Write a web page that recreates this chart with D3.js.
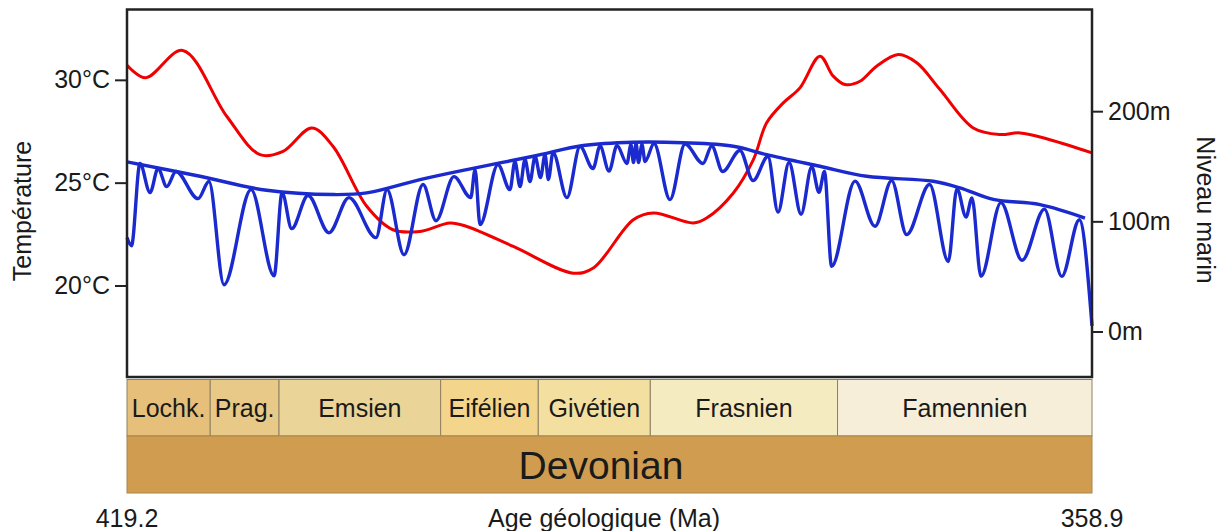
<!DOCTYPE html>
<html>
<head>
<meta charset="utf-8">
<title>Dévonien</title>
<script src="https://cdn.jsdelivr.net/npm/d3@7"></script>
<style>
  body { margin: 0; background: #fff; }
  svg text { font-family: "Liberation Sans", Arial, sans-serif; fill: #1a1a1a; }
</style>
</head>
<body>
<div id="chart"></div>

<script>
// ages in Ma
var tempAge  = [419.2, 418.03, 415.72, 412.97, 410.89, 409.45, 407.66, 406.33, 404.22, 402.58, 400.89, 399.02, 397.97, 395.06, 391.31, 390.06, 387.56, 386.31, 383.81, 382.98, 381.31, 380.06, 379.23, 378.19, 377.15, 375.90, 375.07, 374.33, 373.40, 372.36, 371.00, 369.85, 368.40, 366.32, 364.65, 363.40, 361.53, 358.9];
var tempVal  = [30.71, 30.10, 31.43, 28.23, 26.36, 26.52, 27.66, 26.77, 23.85, 22.71, 22.63, 23.04, 22.87, 21.90, 20.60, 20.85, 23.20, 23.53, 23.04, 23.28, 24.50, 26.12, 27.91, 28.88, 29.61, 31.15, 30.18, 29.77, 29.93, 30.66, 31.23, 30.83, 29.53, 27.66, 27.34, 27.42, 27.09, 26.45];

// sea level: upper envelope
var envAge = [419.2, 414.64, 410.47, 406.31, 404.22, 400.89, 397.97, 393.81, 390.69, 387.56, 384.44, 381.31, 379.23, 375.90, 372.98, 368.82, 367.15, 365.07, 362.15, 359.34];
var envVal = [154.0, 140.9, 128.2, 124.3, 125.8, 137.9, 147.0, 159.1, 168.8, 171.8, 171.3, 168.2, 160.6, 150.0, 140.9, 136.4, 130.4, 119.9, 115.2, 103.0];

// sea level: oscillations (peaks and troughs)
var seaAge = [419.2, 418.92, 418.39, 417.76, 417.26, 416.72, 416.14, 414.76, 414.08, 413.14, 411.45, 410.01, 409.51, 408.91, 407.89, 406.58, 405.33, 403.64, 402.95, 401.89, 400.70, 399.89, 398.77, 397.72, 397.45, 397.14, 396.02, 395.27, 394.96, 394.64, 394.33, 394.02, 393.70, 393.36, 393.08, 392.87, 392.58, 391.71, 390.89, 390.08, 389.64, 389.08, 388.58, 387.96, 387.71, 387.55, 387.39, 387.24, 387.02, 386.83, 386.27, 385.27, 384.33, 383.21, 382.66, 381.98, 380.90, 380.08, 379.15, 378.52, 377.83, 377.08, 376.41, 375.96, 375.62, 375.17, 373.71, 372.46, 371.42, 370.48, 369.05, 367.88, 367.34, 366.77, 366.40, 365.84, 364.59, 363.27, 361.87, 360.79, 359.69, 358.9];
var seaVal = [85.2, 77.9, 152.5, 126.1, 147.9, 131.5, 145.2, 120.6, 136.1, 42.5, 128.8, 50.6, 126.1, 93.4, 123.4, 89.7, 121.5, 85.2, 128.8, 69.7, 133.4, 100.6, 140.6, 121.5, 146.9, 97.0, 151.5, 128.8, 154.3, 131.5, 156.1, 136.1, 158.8, 139.7, 160.6, 137.9, 162.5, 121.5, 167.9, 147.9, 168.4, 145.6, 168.8, 152.5, 169.7, 153.4, 170.6, 153.4, 169.7, 154.3, 170.6, 119.7, 170.2, 152.5, 168.4, 145.2, 164.3, 137.0, 158.8, 108.4, 153.4, 106.5, 149.7, 126.4, 145.2, 59.1, 136.5, 95.5, 137.0, 87.9, 133.4, 63.6, 129.7, 104.0, 121.3, 50.0, 117.0, 64.7, 111.1, 50.0, 101.5, 5.2];

// stages (start / end in Ma on the drawn scale)
var stageNames = ["Lochk.", "Prag.", "Emsien", "Eifélien", "Givétien", "Frasnien", "Famennien"];
var stageStart = [419.2, 414.0, 409.7, 399.6, 393.5, 386.5, 374.8];
var stageEnd   = [414.0, 409.7, 399.6, 393.5, 386.5, 374.8, 358.9];
var stageColor = ["#e6c07b", "#e8c987", "#ebd497", "#f3d68b", "#f3e0a1", "#f5ebc1", "#f6eed8"];

var tempTicks = [20, 25, 30];
var seaTicks = [0, 100, 200];
var ageTicks = [419.2, 358.9];


drawChart();

function drawChart(){

	var width = 1222, height = 531;
	// plot box (note: "top" is reserved on window, so use prefixed names)
	var pLeft = 127, pRight = 1092, pTop = 9.5, pBottom = 377;

	var svg = d3.select("#chart").append("svg")
		.attr("width", width)
		.attr("height", height);

	var x = d3.scaleLinear().domain([419.2, 358.9]).range([pLeft, pRight]);
	var yT = d3.scaleLinear().domain([15.55, 33.42]).range([pBottom, pTop]);
	var yS = d3.scaleLinear().domain([-41.3, 292.3]).range([pBottom, pTop]);

	// Curves: smooth ones through catmull-rom, the sea level wiggles monotone
	var tempLine = d3.line()
		.x(d => x(d[0]))
		.y(d => yT(d[1]))
		.curve(d3.curveCatmullRom.alpha(0.5));
	var envLine = d3.line()
		.x(d => x(d[0]))
		.y(d => yS(d[1]))
		.curve(d3.curveCatmullRom.alpha(0.5));
	var seaLine = d3.line()
		.x(d => x(d[0]))
		.y(d => yS(d[1]))
		.curve(d3.curveMonotoneX);

	svg.append("path")
		.datum(d3.zip(tempAge, tempVal))
		.attr("d", tempLine)
		.attr("fill", "none")
		.attr("stroke", "#f00000")
		.attr("stroke-width", 3);

	svg.append("path")
		.datum(d3.zip(envAge, envVal))
		.attr("d", envLine)
		.attr("fill", "none")
		.attr("stroke", "#1a2ace")
		.attr("stroke-width", 3.4);

	svg.append("path")
		.datum(d3.zip(seaAge, seaVal))
		.attr("d", seaLine)
		.attr("fill", "none")
		.attr("stroke", "#1a2ace")
		.attr("stroke-width", 3.4)
		.attr("stroke-linejoin", "round");

	// Frame
	svg.append("rect")
		.attr("x", pLeft).attr("y", pTop)
		.attr("width", pRight - pLeft).attr("height", pBottom - pTop)
		.attr("fill", "none")
		.attr("stroke", "#222")
		.attr("stroke-width", 2.5);

	// Axes
	var axisL = svg.append("g")
		.attr("transform", "translate(" + pLeft + ",0)")
		.call(d3.axisLeft(yT).tickValues(tempTicks).tickSize(12).tickPadding(5).tickFormat(d => d + "°C"));
	var axisR = svg.append("g")
		.attr("transform", "translate(" + pRight + ",0)")
		.call(d3.axisRight(yS).tickValues(seaTicks).tickSize(11).tickPadding(5).tickFormat(d => d + "m"));
	[axisL, axisR].forEach(function(a){
		a.select(".domain").remove();
		a.selectAll("line").attr("stroke", "#222").attr("stroke-width", 2);
		a.selectAll("text").style("font-size", "25px").attr("fill", "#1a1a1a");
	});

	svg.append("text")
		.attr("transform", "translate(31,211) rotate(-90)")
		.attr("text-anchor", "middle")
		.style("font-size", "25px")
		.text("Température");
	svg.append("text")
		.attr("transform", "translate(1197,210) rotate(90)")
		.attr("text-anchor", "middle")
		.style("font-size", "25px")
		.text("Niveau marin");

	// Stages row
	var stTop = 379.5, stBot = 436, perBot = 493;
	var stages = svg.append("g").selectAll("g")
		.data(stageNames)
		.join("g");
	stages.append("rect")
		.attr("x", (d,i) => x(stageStart[i]))
		.attr("y", stTop)
		.attr("width", (d,i) => x(stageEnd[i]) - x(stageStart[i]))
		.attr("height", stBot - stTop)
		.attr("fill", (d,i) => stageColor[i])
		.attr("stroke", "#8f8060")
		.attr("stroke-width", 1);
	stages.append("text")
		.attr("x", (d,i) => (x(stageStart[i]) + x(stageEnd[i])) / 2)
		.attr("y", 417)
		.attr("text-anchor", "middle")
		.style("font-size", "25px")
		.text(d => d);

	// Period row
	svg.append("rect")
		.attr("x", pLeft).attr("y", stBot)
		.attr("width", pRight - pLeft).attr("height", perBot - stBot)
		.attr("fill", "#d09d50")
		.attr("stroke", "#a8864f")
		.attr("stroke-width", 1);
	svg.append("text")
		.attr("x", 601).attr("y", 479)
		.attr("text-anchor", "middle")
		.style("font-size", "39px")
		.text("Devonian");

	// Age axis labels
	svg.selectAll(".ageLabel")
		.data(ageTicks)
		.join("text")
		.attr("class", "ageLabel")
		.attr("x", d => x(d))
		.attr("y", 527)
		.attr("text-anchor", "middle")
		.style("font-size", "25px")
		.text(d => d.toFixed(1));
	svg.append("text")
		.attr("x", 604).attr("y", 527)
		.attr("text-anchor", "middle")
		.style("font-size", "25px")
		.text("Age géologique (Ma)");
}
</script>
</body>
</html>
